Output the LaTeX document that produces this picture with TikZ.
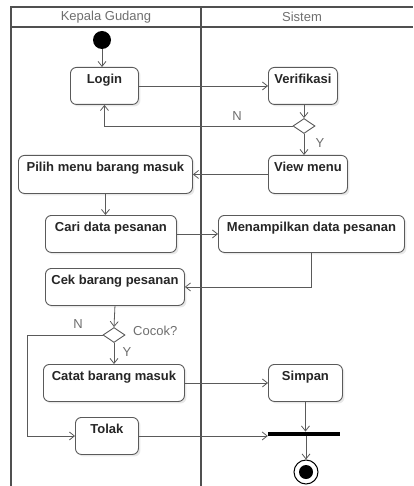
\documentclass[tikz,border=0pt]{standalone}
\usepackage{fontspec}
\setmainfont{Liberation Sans}
\usetikzlibrary{arrows.meta,shapes.geometric,shadows}
\definecolor{lanec}{HTML}{505050}
\definecolor{linec}{HTML}{5A5A5A}
\definecolor{labc}{HTML}{6E6E6E}
\begin{document}
\begin{tikzpicture}[x=1pt,y=-1pt,
  act/.style={draw=linec, line width=0.9pt, rounded corners=6pt, fill=white,
    drop shadow={shadow xshift=2pt,shadow yshift=-2pt,opacity=0.18},
    anchor=north west, inner xsep=3pt, inner ysep=4pt, text height=12pt, text depth=17pt,
    font=\fontsize{13}{15}\selectfont\bfseries, text=black!85},
  flow/.style={draw=linec, line width=0.8pt, -{Straight Barb[length=5pt,width=8pt]}},
  lane/.style={draw=lanec, line width=2.4pt},
  hdr/.style={font=\fontsize{13}{15}\selectfont, text=labc},
  lab/.style={font=\fontsize{13}{15}\selectfont, text=labc, inner sep=0pt},
  dec/.style={diamond, draw=linec, line width=0.9pt, fill=white, minimum width=22pt, minimum height=15pt, inner sep=0pt}
]
\useasboundingbox (0,0) rectangle (413,486);
% swimlanes
\draw[lane] (11,486) -- (11,7) -- (413,7);
\draw[draw=lanec, line width=1.6pt] (11,27) -- (413,27);
\draw[lane] (201,7) -- (201,486);
\node[hdr] (h1) at (106,17) {Kepala Gudang};
\node[hdr] (h2) at (302,17) {Sistem};
% start
\node[circle, fill=black, minimum size=18pt, inner sep=0pt] (start) at (102,40) {};
% activities
\node[act, minimum width=68pt] (login) at (70,67) {Login};
\node[act, minimum width=69pt] (verif) at (268,67) {Verifikasi};
\node[dec] (d1) at (304,126) {};
\node[act, minimum width=174pt, text height=12pt, text depth=18pt] (pilih) at (18,155) {Pilih menu barang masuk};
\node[act, minimum width=79pt, text depth=18pt] (view) at (268,155) {View menu};
\node[act, minimum width=131pt] (cari) at (45,215) {Cari data pesanan};
\node[act, minimum width=186pt] (tampil) at (218,215) {Menampilkan data pesanan};
\node[act, minimum width=139pt] (cek) at (45,268) {Cek barang pesanan};
\node[dec] (d2) at (114,335) {};
\node[act, minimum width=141pt] (catat) at (43,364) {Catat barang masuk};
\node[act, minimum width=74pt] (simpan) at (268,364) {Simpan};
\node[act, minimum width=63pt] (tolak) at (75,417) {Tolak};
\node[rectangle, fill=black, minimum width=72pt, minimum height=4.5pt, inner sep=0pt] (bar) at (304,434) {};
\node[circle, draw=black, line width=1pt, fill=white, minimum size=24pt, inner sep=0pt] (endo) at (306,472) {};
\node[circle, fill=black, minimum size=14pt, inner sep=0pt] (endi) at (306,472) {};
% labels
\node[lab] (n1) at (237,116) {N};
\node[lab] (y1) at (320,143) {Y};
\node[lab, anchor=west] (cocok) at (133,331) {Cocok?};
\node[lab] (n2) at (78,324) {N};
\node[lab] (y2) at (127,352) {Y};
% connectors
\draw[flow] (start) -- (start |- login.north);
\draw[flow] (login.east) -- (verif.west);
\draw[flow] (d1 |- verif.south) -- (d1.north);
\draw[flow] (d1.west) -| (login.south);
\draw[flow] (d1.south) -- (d1 |- view.north);
\draw[flow] (view.west) -- (pilih.east);
\draw[flow] (pilih.south) -- (pilih.south |- cari.north);
\draw[flow] (cari.east) -- (cari.east -| tampil.west);
\draw[flow] (tampil.south) |- (cek.east);
\draw[flow] (cek.south) -- (d2.north);
\coordinate (nc) at (27,335);
\draw[flow] (d2.west) -- (nc) |- (tolak.west);
\draw[flow] (d2.south) -- (d2 |- catat.north);
\draw[flow] (catat.east) -- (catat.east -| simpan.west);
\draw[flow] (tolak.east) -- (tolak.east -| bar.west);
\draw[flow] (simpan.south) -- (simpan.south |- bar.north);
\draw[flow] (bar.south -| endo) -- (endo.north);
\end{tikzpicture}
\end{document}
